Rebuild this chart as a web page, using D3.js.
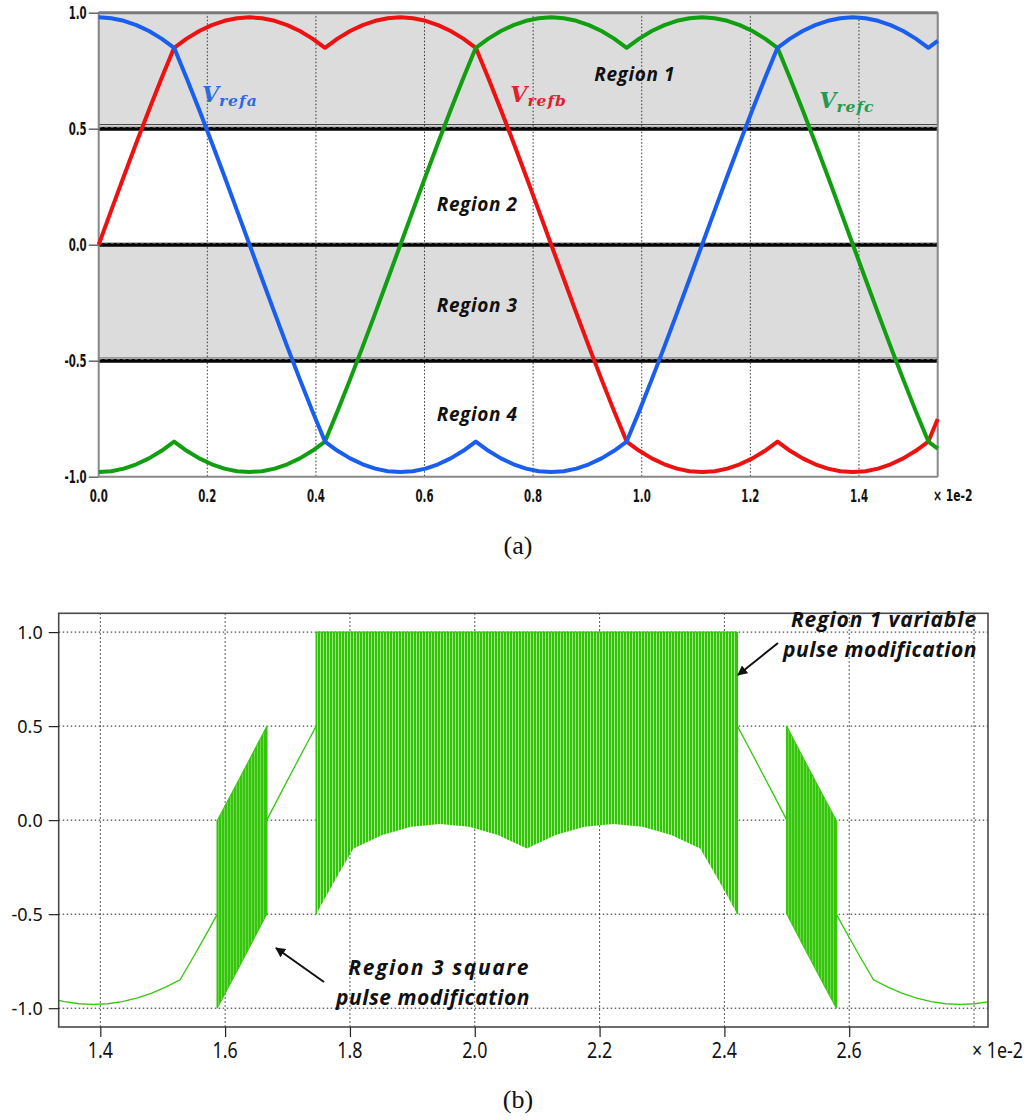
<!DOCTYPE html>
<html>
<head>
<meta charset="utf-8">
<script src="https://cdn.jsdelivr.net/npm/d3@7"></script>
<style>
  html, body { margin: 0; padding: 0; background: #fff; }
  svg { display: block; }
</style>
</head>
<body>
<svg id="fig" width="1033" height="1120"></svg>
<script>
// ---------------- Panel (a): modified three-phase reference signals ----------------
// time axis in units of 1e-2 s
const timeA = [0, 0.0231, 0.0463, 0.0694, 0.0926, 0.1157, 0.1389, 0.1620, 0.1852, 0.2083,
  0.2315, 0.2546, 0.2778, 0.3009, 0.3241, 0.3472, 0.3704, 0.3935, 0.4167, 0.4398,
  0.4630, 0.4861, 0.5093, 0.5324, 0.5556, 0.5787, 0.6019, 0.6250, 0.6481, 0.6713,
  0.6944, 0.7176, 0.7407, 0.7639, 0.7870, 0.8102, 0.8333, 0.8565, 0.8796, 0.9028,
  0.9259, 0.9491, 0.9722, 0.9954, 1.0185, 1.0417, 1.0648, 1.0880, 1.1111, 1.1343,
  1.1574, 1.1806, 1.2037, 1.2269, 1.2500, 1.2731, 1.2963, 1.3194, 1.3426, 1.3657,
  1.3889, 1.4120, 1.4352, 1.4583, 1.4815, 1.5046, 1.5278, 1.5450];
const vRefA = [0.98, 0.9763, 0.9651, 0.9466, 0.9209, 0.8882, 0.8487, 0.7173, 0.5805, 0.4393,
  0.2948, 0.1479, 0, -0.1479, -0.2948, -0.4393, -0.5805, -0.7173, -0.8487, -0.8882,
  -0.9209, -0.9466, -0.9651, -0.9763, -0.98, -0.9763, -0.9651, -0.9466, -0.9209, -0.8882,
  -0.8487, -0.8882, -0.9209, -0.9466, -0.9651, -0.9763, -0.98, -0.9763, -0.9651, -0.9466,
  -0.9209, -0.8882, -0.8487, -0.7173, -0.5805, -0.4393, -0.2948, -0.1479, 0, 0.1479,
  0.2948, 0.4393, 0.5805, 0.7173, 0.8487, 0.8882, 0.9209, 0.9466, 0.9651, 0.9763,
  0.98, 0.9763, 0.9651, 0.9466, 0.9209, 0.8882, 0.8487, 0.8787];
const vRefB = [0, 0.1479, 0.2948, 0.4393, 0.5805, 0.7173, 0.8487, 0.8882, 0.9209, 0.9466,
  0.9651, 0.9763, 0.98, 0.9763, 0.9651, 0.9466, 0.9209, 0.8882, 0.8487, 0.8882,
  0.9209, 0.9466, 0.9651, 0.9763, 0.98, 0.9763, 0.9651, 0.9466, 0.9209, 0.8882,
  0.8487, 0.7173, 0.5805, 0.4393, 0.2948, 0.1479, 0, -0.1479, -0.2948, -0.4393,
  -0.5805, -0.7173, -0.8487, -0.8882, -0.9209, -0.9466, -0.9651, -0.9763, -0.98, -0.9763,
  -0.9651, -0.9466, -0.9209, -0.8882, -0.8487, -0.8882, -0.9209, -0.9466, -0.9651, -0.9763,
  -0.98, -0.9763, -0.9651, -0.9466, -0.9209, -0.8882, -0.8487, -0.7515];
const vRefC = [-0.98, -0.9763, -0.9651, -0.9466, -0.9209, -0.8882, -0.8487, -0.8882, -0.9209, -0.9466,
  -0.9651, -0.9763, -0.98, -0.9763, -0.9651, -0.9466, -0.9209, -0.8882, -0.8487, -0.7173,
  -0.5805, -0.4393, -0.2948, -0.1479, 0, 0.1479, 0.2948, 0.4393, 0.5805, 0.7173,
  0.8487, 0.8882, 0.9209, 0.9466, 0.9651, 0.9763, 0.98, 0.9763, 0.9651, 0.9466,
  0.9209, 0.8882, 0.8487, 0.8882, 0.9209, 0.9466, 0.9651, 0.9763, 0.98, 0.9763,
  0.9651, 0.9466, 0.9209, 0.8882, 0.8487, 0.7173, 0.5805, 0.4393, 0.2948, 0.1479,
  0, -0.1479, -0.2948, -0.4393, -0.5805, -0.7173, -0.8487, -0.8787];
const xTicksA = [0, 0.2, 0.4, 0.6, 0.8, 1.0, 1.2, 1.4];
const yTicksA = [-1, -0.5, 0, 0.5, 1];
const regionBounds = [0.5, 0, -0.5];
const shadedRegions = [[0.5, 1.0], [-0.5, 0]];
const regionNames = ["Region 1", "Region 2", "Region 3", "Region 4"];

// ---------------- Panel (b): modified phase reference with pulse regions ----------------
const xTicksB = [1.4, 1.6, 1.8, 2.0, 2.2, 2.4, 2.6];
const xGridB = [1.4, 1.6, 1.8, 2.0, 2.2, 2.4, 2.6, 2.8];
const yTicksB = [-1.0, -0.5, 0.0, 0.5, 1.0];
// unmodified segments (region 4 and region 2)
const tailLeftT = [1.3333, 1.3426, 1.3657, 1.3889, 1.4120, 1.4352, 1.4583, 1.4815, 1.5046, 1.5278, 1.5509, 1.5741, 1.5874];
const tailLeftV = [-0.9586, -0.9651, -0.9763, -0.98, -0.9763, -0.9651, -0.9466, -0.9209, -0.8882, -0.8487, -0.7173, -0.5805, -0.5];
const riseT = [1.6667, 1.6898, 1.7130, 1.7361, 1.7460];
const riseV = [0, 0.1479, 0.2948, 0.4393, 0.5];
const fallT = [2.4207, 2.4306, 2.4537, 2.4769, 2.5000];
const fallV = [0.5, 0.4393, 0.2948, 0.1479, 0];
const tailRightT = [2.5793, 2.5926, 2.6157, 2.6389, 2.6620, 2.6852, 2.7083, 2.7315, 2.7546, 2.7778, 2.8009, 2.8224];
const tailRightV = [-0.5, -0.5805, -0.7173, -0.8487, -0.8882, -0.9209, -0.9466, -0.9651, -0.9763, -0.98, -0.9763, -0.9663];
// region 1: variable pulses between 1.0 and (ref - 1)
const region1T = [1.7460, 1.7593, 1.7824, 1.8056, 1.8519, 1.8981, 1.9444, 1.9907, 2.0370,
  2.0833, 2.1296, 2.1759, 2.2222, 2.2685, 2.3148, 2.3611, 2.3843, 2.4074, 2.4207];
const region1Low = [-0.5, -0.4195, -0.2827, -0.1513, -0.0791, -0.0349, -0.02, -0.0349, -0.0791,
  -0.1513, -0.0791, -0.0349, -0.02, -0.0349, -0.0791, -0.1513, -0.2827, -0.4195, -0.5];
const region1High = 1.0;
// region 3: square pulses between (ref - 0.5) and (ref + 0.5)
const region3aT = [1.5874, 1.5972, 1.6204, 1.6435, 1.6667];
const region3aLow = [-1.0, -0.9393, -0.7948, -0.6479, -0.5];
const region3aHigh = [0, 0.0607, 0.2052, 0.3521, 0.5];
const region3bT = [2.5000, 2.5231, 2.5463, 2.5694, 2.5793];
const region3bLow = [-0.5, -0.6479, -0.7948, -0.9393, -1.0];
const region3bHigh = [0.5, 0.3521, 0.2052, 0.0607, 0];

// ---------------- drawing ----------------
const svg = d3.select("#fig");
const defs = svg.append("defs");
const fmt1 = v => d3.format(".1f")(v).replace("\u2212", "-");

defs.append("marker").attr("id", "arrowHead")
  .attr("viewBox", "0 0 10 10").attr("refX", 9).attr("refY", 5)
  .attr("markerWidth", 5).attr("markerHeight", 5).attr("orient", "auto")
  .append("path").attr("d", "M0,0 L10,5 L0,10 z").attr("fill", "#111");

function stripes(id, dark, light, darkW) {
  const p = defs.append("pattern").attr("id", id)
    .attr("patternUnits", "userSpaceOnUse").attr("width", 3).attr("height", 8);
  p.append("rect").attr("width", 3).attr("height", 8).attr("fill", light);
  p.append("rect").attr("width", darkW).attr("height", 8).attr("fill", dark);
}
stripes("pwmVar", "#2fc406", "#a6e78e", 2);
stripes("pwmSq", "#33c60c", "#7fdc5c", 2.2);

const condensed = (g, x, y, txt, anchor, size, sx) => {
  g.append("text")
    .attr("transform", `translate(${x},${y}) scale(${sx},1)`)
    .attr("text-anchor", anchor)
    .attr("font-family", "DejaVu Sans, sans-serif")
    .attr("font-weight", "bold")
    .attr("font-size", size)
    .attr("fill", "#111")
    .text(txt);
};

// ===== Panel (a) =====
const PA = { left: 98.7, right: 937.7, top: 12.7, bottom: 476.7 };
const xA = d3.scaleLinear().domain([0, 1.545]).range([PA.left, PA.right]);
const yA = d3.scaleLinear().domain([-1, 1]).range([PA.bottom, PA.top]);
const gA = svg.append("g");

// shaded regions 1 and 3
gA.append("rect")
  .attr("x", PA.left).attr("y", yA(shadedRegions[0][1]))
  .attr("width", PA.right - PA.left).attr("height", yA(shadedRegions[0][0]) - yA(shadedRegions[0][1]) - 4)
  .attr("fill", "#dcdcdc").attr("stroke", "#222").attr("stroke-width", 1);
gA.append("rect")
  .attr("x", PA.left).attr("y", yA(shadedRegions[1][1]))
  .attr("width", PA.right - PA.left).attr("height", yA(shadedRegions[1][0]) - yA(shadedRegions[1][1]) - 3)
  .attr("fill", "#dcdcdc").attr("stroke", "#888").attr("stroke-width", 1);

// vertical dotted grid
gA.selectAll("line.vgrid").data(xTicksA.filter(d => d > 0)).join("line")
  .attr("x1", d => xA(d)).attr("x2", d => xA(d))
  .attr("y1", PA.top).attr("y2", PA.bottom)
  .attr("stroke", "#333").attr("stroke-width", 1).attr("stroke-dasharray", "1.5,2");

// thick region boundaries
gA.selectAll("line.bound").data(regionBounds).join("line")
  .attr("x1", PA.left).attr("x2", PA.right)
  .attr("y1", d => yA(d)).attr("y2", d => yA(d))
  .attr("stroke", "#050505").attr("stroke-width", 4);
gA.selectAll("line.boundDash").data(regionBounds).join("line")
  .attr("x1", PA.left).attr("x2", PA.right)
  .attr("y1", d => yA(d) - 1.5).attr("y2", d => yA(d) - 1.5)
  .attr("stroke", "#9a9a9a").attr("stroke-width", 0.8).attr("stroke-dasharray", "3,3");

// frame
gA.append("line").attr("x1", PA.left).attr("x2", PA.right).attr("y1", PA.top).attr("y2", PA.top)
  .attr("stroke", "#7a7a7a").attr("stroke-width", 3);
gA.append("line").attr("x1", PA.left).attr("x2", PA.right).attr("y1", PA.bottom).attr("y2", PA.bottom)
  .attr("stroke", "#888").attr("stroke-width", 2);
gA.append("line").attr("x1", PA.left).attr("x2", PA.left).attr("y1", PA.top).attr("y2", PA.bottom)
  .attr("stroke", "#888").attr("stroke-width", 2);
gA.append("line").attr("x1", PA.right).attr("x2", PA.right).attr("y1", PA.top).attr("y2", PA.bottom)
  .attr("stroke", "#888").attr("stroke-width", 2);

// y axis ticks and labels
const axA = gA.append("g").attr("transform", `translate(${PA.left},0)`)
  .call(d3.axisLeft(yA).tickValues(yTicksA).tickSize(10).tickFormat(""));
axA.select(".domain").remove();
axA.selectAll(".tick line").attr("stroke", "#666").attr("stroke-width", 1.5);
yTicksA.forEach(v => condensed(gA, PA.left - 12, yA(v) + 6, fmt1(v), "end", 17, 0.6));
xTicksA.forEach(v => condensed(gA, xA(v), 502, fmt1(v), "middle", 17, 0.6));
condensed(gA, 933, 501, "× 1e-2", "start", 15, 0.72);

// curves
const lineA = d3.line().x(d => xA(d[0])).y(d => yA(d[1]));
const phases = [
  { values: vRefB, color: "#ee1111" },
  { values: vRefC, color: "#119e11" },
  { values: vRefA, color: "#1a5ef0" }
];
phases.forEach(p => {
  gA.append("path").datum(d3.zip(timeA, p.values))
    .attr("d", lineA).attr("fill", "none")
    .attr("stroke", p.color).attr("stroke-width", 4).attr("stroke-linejoin", "round");
});

// phase labels
function refLabel(x, y, sub, color) {
  const t = gA.append("text").attr("x", x).attr("y", y)
    .attr("font-family", "DejaVu Serif, serif").attr("font-style", "italic")
    .attr("font-weight", "bold").attr("fill", color);
  t.append("tspan").attr("font-size", 22).text("V");
  t.append("tspan").attr("font-size", 15.5).attr("dy", 4).attr("letter-spacing", 1).text(sub);
}
refLabel(xA(0.19), 102, "refa", "#2a6be0");
refLabel(xA(0.758), 102, "refb", "#e0202c");
refLabel(xA(1.327), 108, "refc", "#1e9a52");

// region labels
const regionPos = [[0.987, 0.73], [0.697, 0.17], [0.697, -0.265], [0.697, -0.735]];
regionNames.forEach((name, i) => {
  gA.append("text")
    .attr("x", xA(regionPos[i][0])).attr("y", yA(regionPos[i][1]) + 6)
    .attr("text-anchor", "middle")
    .attr("font-family", "Open Sans, sans-serif").attr("font-style", "italic")
    .attr("font-weight", "bold").attr("font-size", 19).attr("letter-spacing", 0.6)
    .attr("fill", "#111")
    .text(name);
});

// caption (a)
svg.append("text").attr("x", 518).attr("y", 554).attr("text-anchor", "middle")
  .attr("font-family", "Liberation Serif, Times New Roman, serif").attr("font-size", 26)
  .attr("fill", "#111").text("(a)");

// ===== Panel (b) =====
const PB = { left: 58.7, right: 988, top: 613.3, bottom: 1027 };
const xB = d3.scaleLinear().domain([1.3333, 2.8224]).range([PB.left, PB.right]);
const yB = d3.scaleLinear().domain([-1.1, 1.1]).range([PB.bottom, PB.top]);
const gB = svg.append("g");

// dotted grid
gB.selectAll("line.hg").data(yTicksB).join("line")
  .attr("x1", PB.left).attr("x2", PB.right)
  .attr("y1", d => yB(d)).attr("y2", d => yB(d))
  .attr("stroke", "#222").attr("stroke-width", 1).attr("stroke-dasharray", "1.5,2.5");
gB.selectAll("line.vg").data(xGridB).join("line")
  .attr("x1", d => xB(d)).attr("x2", d => xB(d))
  .attr("y1", PB.top).attr("y2", PB.bottom)
  .attr("stroke", "#222").attr("stroke-width", 1).attr("stroke-dasharray", "1.5,2.5");

// pulse bands
const bandArea = d3.area().x(d => xB(d[0])).y0(d => yB(d[1])).y1(d => yB(d[2]));
const r1 = region1T.map((t, i) => [t, region1Low[i], region1High]);
const r3a = d3.zip(region3aT, region3aLow, region3aHigh);
const r3b = d3.zip(region3bT, region3bLow, region3bHigh);
gB.append("path").datum(r1).attr("d", bandArea).attr("fill", "url(#pwmVar)");
gB.append("path").datum(r3a).attr("d", bandArea).attr("fill", "url(#pwmSq)");
gB.append("path").datum(r3b).attr("d", bandArea).attr("fill", "url(#pwmSq)");

const green = "#33c80a";
const edge = (t, a, b) => gB.append("line")
  .attr("x1", xB(t)).attr("x2", xB(t)).attr("y1", yB(a)).attr("y2", yB(b))
  .attr("stroke", green).attr("stroke-width", 1.6);
const last = arr => arr[arr.length - 1];
edge(region1T[0], region1Low[0], region1High);
edge(last(region1T), last(region1Low), region1High);
edge(region3aT[0], region3aLow[0], region3aHigh[0]);
edge(last(region3aT), last(region3aLow), last(region3aHigh));
edge(region3bT[0], region3bLow[0], region3bHigh[0]);
edge(last(region3bT), last(region3bLow), last(region3bHigh));
gB.append("line").attr("x1", xB(region1T[0])).attr("x2", xB(last(region1T)))
  .attr("y1", yB(region1High)).attr("y2", yB(region1High))
  .attr("stroke", green).attr("stroke-width", 1.2);
[r3a, r3b].forEach(r => {
  gB.append("path").datum(r).attr("d", d3.line().x(d => xB(d[0])).y(d => yB(d[2])))
    .attr("fill", "none").attr("stroke", green).attr("stroke-width", 1);
  gB.append("path").datum(r).attr("d", d3.line().x(d => xB(d[0])).y(d => yB(d[1])))
    .attr("fill", "none").attr("stroke", green).attr("stroke-width", 1);
});

// unmodified segments
const lineB = d3.line().x(d => xB(d[0])).y(d => yB(d[1]));
[[tailLeftT, tailLeftV], [riseT, riseV], [fallT, fallV], [tailRightT, tailRightV]].forEach(([t, v]) => {
  gB.append("path").datum(d3.zip(t, v)).attr("d", lineB)
    .attr("fill", "none").attr("stroke", green).attr("stroke-width", 1.3);
});

// frame
gB.append("rect").attr("x", PB.left).attr("y", PB.top)
  .attr("width", PB.right - PB.left).attr("height", PB.bottom - PB.top)
  .attr("fill", "none").attr("stroke", "#4a4a4a").attr("stroke-width", 1.6);

// axes
const axLB = gB.append("g").attr("transform", `translate(${PB.left},0)`)
  .call(d3.axisLeft(yB).tickValues(yTicksB).tickSize(10).tickFormat(""));
axLB.select(".domain").remove();
axLB.selectAll(".tick line").attr("stroke", "#222").attr("stroke-width", 1.2);
yTicksB.forEach(v => {
  gB.append("text").attr("x", PB.left - 16).attr("y", yB(v) + 6.5)
    .attr("text-anchor", "end").attr("font-family", "Noto Sans, sans-serif")
    .attr("font-size", 18).attr("fill", "#111").text(fmt1(v));
});
const axBB = gB.append("g").attr("transform", `translate(0,${PB.bottom})`)
  .call(d3.axisBottom(xB).tickValues(xTicksB).tickSize(10).tickFormat(""));
axBB.select(".domain").remove();
axBB.selectAll(".tick line").attr("stroke", "#222").attr("stroke-width", 1.2);
xTicksB.forEach(v => {
  gB.append("text").attr("transform", `translate(${xB(v)},1058) scale(0.85,1)`)
    .attr("text-anchor", "middle").attr("font-family", "Noto Sans, sans-serif")
    .attr("font-size", 21).attr("fill", "#111").text(fmt1(v));
});
gB.append("text").attr("transform", `translate(972,1058) scale(0.85,1)`)
  .attr("font-family", "Noto Sans, sans-serif").attr("font-size", 21).attr("fill", "#111")
  .text("× 1e-2");

// annotations
function note(lines, spacing, xEnd, y0, dy) {
  lines.forEach((s, i) => {
    gB.append("text").attr("x", xEnd).attr("y", y0 + i * dy)
      .attr("text-anchor", "end")
      .attr("font-family", "Open Sans, sans-serif").attr("font-style", "italic")
      .attr("font-weight", "bold").attr("font-size", 21).attr("letter-spacing", spacing[i])
      .attr("fill", "#111").text(s);
  });
}
note(["Region 1 variable", "pulse modification"], [0.9, 0.5], 977, 627, 30);
note(["Region 3 square", "pulse modification"], [1.6, 0.5], 530, 975, 30);
gB.append("line").attr("x1", 778).attr("y1", 643).attr("x2", 738).attr("y2", 675)
  .attr("stroke", "#111").attr("stroke-width", 2).attr("marker-end", "url(#arrowHead)");
gB.append("line").attr("x1", 324).attr("y1", 982).attr("x2", 276).attr("y2", 948)
  .attr("stroke", "#111").attr("stroke-width", 2).attr("marker-end", "url(#arrowHead)");

// caption (b)
svg.append("text").attr("x", 518).attr("y", 1108).attr("text-anchor", "middle")
  .attr("font-family", "Liberation Serif, Times New Roman, serif").attr("font-size", 26)
  .attr("fill", "#111").text("(b)");
</script>
</body>
</html>
